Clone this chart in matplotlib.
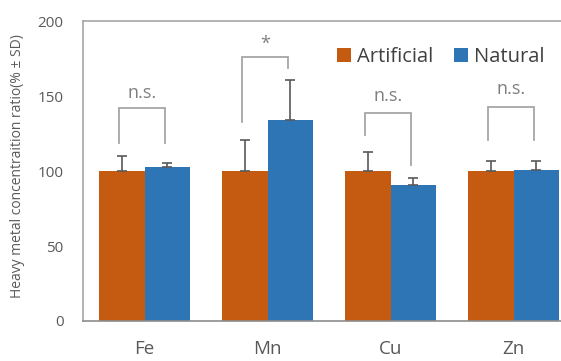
import numpy as np
import matplotlib
matplotlib.use("Agg")
import matplotlib.pyplot as plt

plt.rcParams['font.family'] = ['Open Sans', 'DejaVu Sans']

# data
metals = ['Fe', 'Mn', 'Cu', 'Zn']
artificial = [100, 100, 100, 100]
artificial_sd = [10, 21, 13, 7]
natural = [103, 134, 90.5, 100.5]
natural_sd = [2.5, 27, 5, 6.5]

# significance brackets: label, top, left leg end, right leg end, label y
sig_labels = ['n.s.', '*', 'n.s.', 'n.s.']
sig_top = [142, 176, 139, 143]
sig_left = [119, 133, 124, 121]
sig_right = [119, 169, 104, 121]
sig_text_y = [152, 185, 150, 154.5]

orange = '#C55A11'
blue = '#2E75B6'
grey = '#595959'

fig = plt.figure(figsize=(5.61, 3.61), dpi=100)
ax = fig.add_axes([83/561, 40/361, 492/561, 300/361])

x = np.arange(len(metals))
w = 0.37
ax.bar(x - w/2, artificial, w, color=orange, label='Artificial')
ax.bar(x + w/2, natural, w, color=blue, label='Natural')

# upward-only error bars
ax.errorbar(x - w/2, artificial, yerr=[np.zeros(4), artificial_sd], fmt='none',
            ecolor=grey, elinewidth=1.2, capsize=3.5, capthick=1.2)
ax.errorbar(x + w/2, natural, yerr=[np.zeros(4), natural_sd], fmt='none',
            ecolor=grey, elinewidth=1.2, capsize=3.5, capthick=1.2)

for i in range(len(metals)):
    xl = x[i] - w/2 - 0.02
    xr = x[i] + w/2 - 0.02
    ax.plot([xl, xl, xr, xr], [sig_left[i], sig_top[i], sig_top[i], sig_right[i]],
            color='#A6A6A6', lw=1.3, solid_joinstyle='miter')
    ax.text((xl + xr)/2, sig_text_y[i], sig_labels[i], ha='center', va='center',
            fontsize=13, color='#7F7F7F')

ax.set_xlim(-0.5, 3.5)
ax.set_ylim(0, 200)
ax.set_yticks([0, 50, 100, 150, 200])
ax.set_xticks(x)
ax.set_xticklabels(metals)
ax.tick_params(axis='y', length=0, labelsize=11, labelcolor=grey, pad=14)
ax.tick_params(axis='x', length=0, labelsize=13.5, labelcolor=grey, pad=14)

ax.spines['right'].set_visible(False)
ax.spines['top'].set_color('#A6A6A6')
ax.spines['left'].set_color('#A6A6A6')
ax.spines['bottom'].set_color('#8C8C8C')
for s in ax.spines.values():
    s.set_linewidth(1.2)

fig.text(18/561, 1 - 166/361, 'Heavy metal concentraition ratio(% \u00b1 SD)', rotation=90,
         ha='center', va='center', fontsize=10, color=grey)

ax.legend(loc='upper left', bbox_to_anchor=(0.5, 0.94), ncol=2, frameon=False,
          fontsize=14.5, handlelength=0.7, handleheight=0.7, handletextpad=0.3,
          columnspacing=1.0, labelcolor='#404040', borderaxespad=0)

fig.savefig('out.png', dpi=100)
